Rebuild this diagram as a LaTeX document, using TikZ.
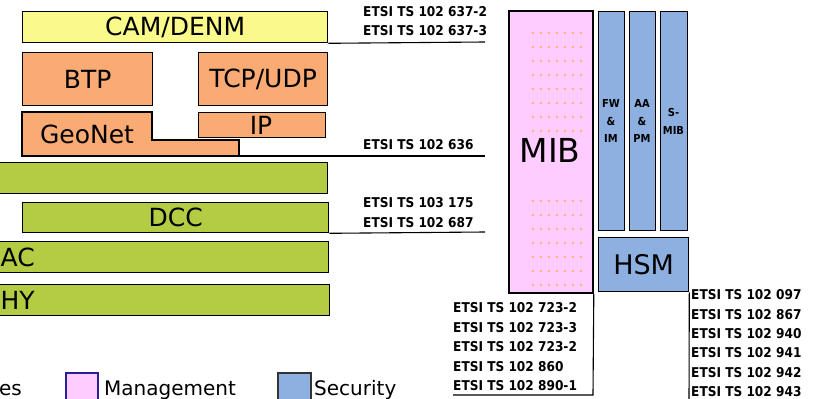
\documentclass[tikz,border=0pt]{standalone}
\usepackage{fontspec}
\setmainfont{DejaVu Sans}
\newfontfamily\etsifont{DejaVu Sans Condensed}
\definecolor{camyellow}{RGB}{250,250,140}
\definecolor{netorange}{RGB}{250,170,115}
\definecolor{accgreen}{RGB}{180,204,68}
\definecolor{mgmtpink}{RGB}{255,204,255}
\definecolor{secblue}{RGB}{141,176,224}
\definecolor{dotorange}{RGB}{255,165,85}
\definecolor{legendedge}{RGB}{40,30,150}
\tikzset{
  layer/.style={draw=black, line width=1.3pt, inner sep=0pt, anchor=north west,
                font=\fontsize{25}{25}\selectfont},
  label/.style={inner sep=0pt, font=\fontsize{25}{25}\selectfont},
  etsi/.style={inner sep=0pt, anchor=west, font=\etsifont\bfseries\fontsize{13.5}{13.5}\selectfont},
  tiny/.style={inner sep=0pt, align=center, font=\etsifont\bfseries\fontsize{11}{17.5}\selectfont},
  legend/.style={inner sep=0pt, anchor=base west, font=\fontsize{20}{20}\selectfont},
  ref/.style={line width=1.1pt},
}
\begin{document}
\begin{tikzpicture}[x=1pt,y=-1pt]
\useasboundingbox (0,0) rectangle (815,399);
\clip (0,0) rectangle (815,399);

% protocol stack
\node[layer, fill=camyellow, minimum width=305pt, minimum height=31pt] (cam) at (22,11) {CAM/DENM};
\node[layer, fill=netorange, minimum width=130pt, minimum height=53pt] (btp) at (22,52) {BTP};
\node[layer, fill=netorange, minimum width=129pt, minimum height=53pt] (tcp) at (198,52) {TCP/UDP};
\node[layer, fill=netorange, minimum width=127pt, minimum height=25pt] (ip) at (198,112) {};
\node[label] at (261,125) {IP};
\draw[draw=black, line width=1.3pt, fill=netorange]
  (22,112) -- (152,112) -- (152,140) -- (239,140) -- (239,156) -- (22,156) -- cycle;
\coordinate (geoend) at (239,156);
\node[label] (geonet) at (87,134) {GeoNet};
\node[layer, fill=accgreen, minimum width=332pt, minimum height=31pt] (acc) at (-5,162) {};
\node[layer, fill=accgreen, minimum width=306pt, minimum height=30pt] (dcc) at (22,202) {DCC};
\node[layer, fill=accgreen, minimum width=333pt, minimum height=31pt] (mac) at (-5,241) {};
\node[label, anchor=west] at (0.5,257) {AC};
\node[layer, fill=accgreen, minimum width=334pt, minimum height=31pt] (phy) at (-5,284) {};
\node[label, anchor=west] at (0.5,300) {HY};

% standard references of the stack
\node[etsi] (r1) at (363,12) {ETSI TS 102 637-2};
\node[etsi] (r2) at (363,31) {ETSI TS 102 637-3};
\node[etsi] (r3) at (363,145) {ETSI TS 102 636};
\node[etsi] (r4) at (363,203) {ETSI TS 103 175};
\node[etsi] (r5) at (363,223) {ETSI TS 102 687};
\coordinate (camline) at (485,42);
\coordinate (geoline) at (485,156);
\coordinate (dccline) at (485,232);
\draw[ref] (cam.south east) -- (camline);
\draw[ref] (geoend) -- (geoline);
\draw[ref] (dcc.south east) -- (dccline);

% management
\node[layer, fill=mgmtpink, line width=1.8pt, minimum width=84pt, minimum height=282pt] (mib) at (508,10) {};
\foreach \k in {0,...,7,12,13,...,18}
  \foreach \j in {0,...,6}
    \fill[dotorange] (533+8*\j, 33+14*\k) circle (1.1pt);
\node[inner sep=0pt, font=\fontsize{33}{33}\selectfont] at (550,150) {MIB};

\node[etsi] (m1) at (453,308) {ETSI TS 102 723-2};
\node[etsi] (m2) at (453,327.5) {ETSI TS 102 723-3};
\node[etsi] (m3) at (453,347) {ETSI TS 102 723-2};
\node[etsi] (m4) at (453,366.5) {ETSI TS 102 860};
\node[etsi] (m5) at (453,386) {ETSI TS 102 890-1};
\coordinate (mibcorner) at (593,395);
\coordinate (mibline) at (453,395);
\draw[ref] (mib.south east) -- (mibcorner) -- (mibline);

% security
\node[layer, fill=secblue, minimum width=26pt, minimum height=219pt] (fw) at (598,11) {};
\node[layer, fill=secblue, minimum width=26pt, minimum height=219pt] (aa) at (629,11) {};
\node[layer, fill=secblue, minimum width=27pt, minimum height=219pt] (smib) at (660,11) {};
\node[tiny] at (611,121) {FW\\\&\\IM};
\node[tiny] at (642,121) {AA\\\&\\PM};
\node[tiny] at (673.5,121.5) {S-\\MIB};
\node[layer, fill=secblue, minimum width=90pt, minimum height=54pt, font=\fontsize{27}{27}\selectfont] (hsm) at (598,237) {HSM};

\node[etsi] (s1) at (691,295) {ETSI TS 102 097};
\node[etsi] (s2) at (691,314.3) {ETSI TS 102 867};
\node[etsi] (s3) at (691,333.6) {ETSI TS 102 940};
\node[etsi] (s4) at (691,352.9) {ETSI TS 102 941};
\node[etsi] (s5) at (691,372.2) {ETSI TS 102 942};
\node[etsi] (s6) at (691,391.2) {ETSI TS 102 943};
\coordinate (hsmline) at (689,405);
\draw[ref] (hsm.south east) -- (hsmline);

% legend
\node[legend] (lgacc) at (-1,395) {es};
\draw[draw=legendedge, line width=1.3pt, fill=mgmtpink] (66,373) rectangle (98,408);
\node[legend] (lgmgmt) at (104,395) {Management};
\draw[draw=black!80, line width=1.3pt, fill=secblue] (278,373) rectangle (311,408);
\node[legend] (lgsec) at (314,395) {Security};
\end{tikzpicture}
\end{document}
